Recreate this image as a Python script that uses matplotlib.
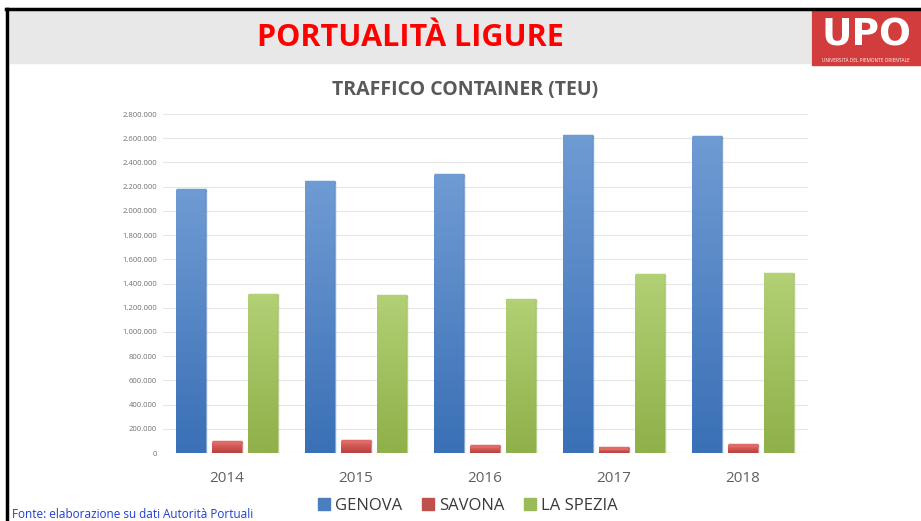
import matplotlib.pyplot as plt
import matplotlib.patches as mpatches
import numpy as np
from matplotlib.colors import LinearSegmentedColormap
from matplotlib.ticker import FuncFormatter

years = ['2014', '2015', '2016', '2017', '2018']
genova = [2172000, 2240000, 2295000, 2620000, 2608000]
savona = [90000, 98000, 54000, 45000, 63000]
la_spezia = [1302000, 1300000, 1265000, 1470000, 1482000]
series_names = ['GENOVA', 'SAVONA', 'LA SPEZIA']

# light (top) / dark (bottom) shades for the gradient fill
shades = [('#6f9bd3', '#3a70b6'), ('#e06a66', '#b8403d'), ('#b2d074', '#8fb04a')]
legend_colors = ['#4a7ebf', '#c0504d', '#9bbb59']

plt.rcParams['font.family'] = ['Open Sans', 'DejaVu Sans']

fig = plt.figure(figsize=(9.21, 5.21), dpi=100)

# slide header band, border and logo
fig.patches.append(mpatches.Rectangle((10 / 921, 1 - 63 / 521), 800 / 921, 53 / 521,
                                      transform=fig.transFigure, color='#e8e8e8', zorder=0))
fig.add_artist(plt.Line2D([7 / 921, 7 / 921], [0, 1 - 9 / 521], transform=fig.transFigure,
                          color='black', lw=2.5))
fig.add_artist(plt.Line2D([6 / 921, 921 / 921], [1 - 9 / 521, 1 - 9 / 521],
                          transform=fig.transFigure, color='black', lw=2.5))
fig.patches.append(mpatches.Rectangle((812 / 921, 1 - 65 / 521), 109 / 921, 56 / 521,
                                      transform=fig.transFigure, color='#d23c3c', zorder=1))
fig.text(866 / 921, 1 - 54 / 521, 'UPO', color='white', fontsize=27, fontweight='bold',
         ha='center', va='bottom', family='Liberation Sans Narrow')
fig.text(866 / 921, 1 - 60.5 / 521, 'UNIVERSITÀ DEL PIEMONTE ORIENTALE', color='white',
         fontsize=3.4, ha='center', va='center')

fig.text(410 / 921, 1 - 38 / 521, 'PORTUALITÀ LIGURE', color='#ff0000', fontsize=22,
         fontweight='bold', ha='center', va='center')
fig.text(465 / 921, 1 - 90 / 521, 'TRAFFICO CONTAINER (TEU)', color='#595959', fontsize=14,
         fontweight='bold', ha='center', va='center')
fig.text(12 / 921, 1 - 515 / 521, 'Fonte: elaborazione su dati Autorità Portuali',
         color='#1f3fd0', fontsize=8.5, ha='left', va='center')

ax = fig.add_axes([162.5 / 921, 68 / 521, 645 / 921, 339 / 521])
ax.set_facecolor('none')

x = np.arange(len(years))
bw = 0.225
gap = 0.054
offsets = [-(bw + gap), 0, bw + gap]
data = [genova, savona, la_spezia]

grad = np.linspace(0, 1, 64).reshape(-1, 1)
for vals, off, (light, dark) in zip(data, offsets, shades):
    cmap = LinearSegmentedColormap.from_list('g', [dark, light])
    bars = ax.bar(x + off, vals, bw, color='none', edgecolor='none', zorder=2)
    for b in bars:
        x0, y0 = b.get_x(), b.get_y()
        w, h = b.get_width(), b.get_height()
        ax.imshow(grad, extent=(x0, x0 + w, y0, y0 + h), origin='lower', cmap=cmap,
                  aspect='auto', zorder=2)
        ax.plot([x0, x0 + w], [y0 + h, y0 + h], color=light, lw=2.5, zorder=3,
                solid_capstyle='butt')
        ax.plot([x0 + w, x0 + w], [y0, y0 + h], color=dark, lw=1, alpha=0.6, zorder=3)

ax.set_xlim(-0.5, 4.5)
ax.set_ylim(0, 2800000)
ax.set_yticks(np.arange(0, 2800001, 200000))
ax.yaxis.set_major_formatter(FuncFormatter(lambda v, p: f'{int(v):,}'.replace(',', '.')))
ax.set_xticks(x)
ax.set_xticklabels(years)
ax.grid(axis='y', color='#e6e6e6', lw=0.8, zorder=0)
ax.set_axisbelow(True)
for s in ax.spines.values():
    s.set_visible(False)
ax.tick_params(axis='y', length=0, labelsize=5.5, labelcolor='#707070', pad=4)
ax.tick_params(axis='x', length=0, labelsize=11, labelcolor='#606060', pad=13)
ax.axhline(0, color='#d9d9d9', lw=0.8, zorder=1)

handles = [mpatches.Patch(color=c, label=n) for c, n in zip(legend_colors, series_names)]
fig.legend(handles=handles, loc='center', bbox_to_anchor=(468 / 921, 1 - 506 / 521), ncol=3,
           frameon=False, fontsize=12, handlelength=0.7, handleheight=0.7, handletextpad=0.3,
           columnspacing=1.2, labelcolor='#3a3a3a')

fig.savefig('out.png', dpi=100)
